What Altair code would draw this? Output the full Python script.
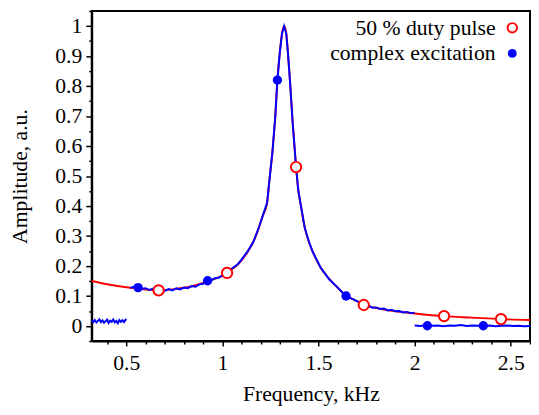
import altair as alt
import pandas as pd

# ---- data ----
red_x = [0.32, 0.40, 0.50, 0.60, 0.67, 0.75, 0.85, 0.92, 1.00, 1.024, 1.05, 1.08, 1.13, 1.16,
         1.19, 1.21, 1.232, 1.245, 1.26, 1.275, 1.286, 1.298, 1.31, 1.321, 1.332, 1.342, 1.351,
         1.365, 1.383, 1.395, 1.406, 1.428, 1.45, 1.471, 1.51, 1.556, 1.60, 1.64, 1.70, 1.735,
         1.80, 1.90, 2.00, 2.153, 2.30, 2.449, 2.60]
red_y = [0.150, 0.139, 0.129, 0.122, 0.119, 0.123, 0.134, 0.149, 0.168, 0.177, 0.190, 0.205,
         0.246, 0.280, 0.328, 0.368, 0.409, 0.490, 0.580, 0.700, 0.820, 0.910, 0.975, 1.000,
         0.975, 0.900, 0.820, 0.680, 0.530, 0.450, 0.409, 0.328, 0.280, 0.246, 0.195, 0.157,
         0.127, 0.103, 0.083, 0.070, 0.060, 0.049, 0.042, 0.033, 0.028, 0.023, 0.020]

blue1_x = [0.320, 0.328, 0.336, 0.344, 0.352, 0.360, 0.368, 0.376, 0.384, 0.392, 0.400, 0.408,
           0.416, 0.424, 0.432, 0.440, 0.448, 0.456, 0.464, 0.472, 0.480, 0.488, 0.496, 0.502]
blue1_y = [0.018, 0.013, 0.020, 0.012, 0.017, 0.022, 0.013, 0.019, 0.011, 0.016, 0.021, 0.010,
           0.018, 0.014, 0.022, 0.012, 0.017, 0.009, 0.020, 0.014, 0.019, 0.013, 0.021, 0.022]

blue2_x = [0.52, 0.54, 0.56, 0.58, 0.60, 0.62, 0.64, 0.66, 0.68, 0.70, 0.72, 0.74, 0.76, 0.78,
           0.80, 0.82, 0.84, 0.86, 0.88, 0.90, 0.92, 0.94, 0.96, 0.98, 1.00, 1.024, 1.05, 1.08,
           1.10, 1.13, 1.16, 1.19, 1.21, 1.232, 1.245, 1.26, 1.275, 1.286, 1.298, 1.31, 1.321,
           1.332, 1.342, 1.351, 1.365, 1.383, 1.395, 1.406, 1.428, 1.45, 1.471, 1.51, 1.556,
           1.60, 1.64, 1.67, 1.70, 1.735, 1.76, 1.78, 1.80, 1.82, 1.84, 1.86, 1.88, 1.90, 1.92,
           1.94, 1.96, 1.98, 2.00]
blue2_y = [0.127, 0.131, 0.128, 0.124, 0.126, 0.120, 0.125, 0.118, 0.122, 0.117, 0.123, 0.119,
           0.126, 0.122, 0.128, 0.126, 0.133, 0.131, 0.139, 0.141, 0.151, 0.152, 0.159, 0.161,
           0.169, 0.176, 0.192, 0.206, 0.222, 0.248, 0.279, 0.330, 0.368, 0.411, 0.490, 0.580,
           0.700, 0.820, 0.910, 0.975, 1.000, 0.975, 0.900, 0.820, 0.680, 0.530, 0.450, 0.409,
           0.328, 0.281, 0.245, 0.196, 0.155, 0.128, 0.101, 0.092, 0.083, 0.072, 0.068, 0.061,
           0.062, 0.057, 0.058, 0.052, 0.054, 0.049, 0.050, 0.045, 0.047, 0.043, 0.044]

blue3_x = [2.00, 2.03, 2.06, 2.09, 2.12, 2.15, 2.18, 2.21, 2.24, 2.27, 2.30, 2.33, 2.36, 2.39,
           2.42, 2.45, 2.48, 2.51, 2.54, 2.57, 2.60]
blue3_y = [0.002, 0.000, 0.003, 0.001, 0.002, -0.001, 0.002, 0.001, 0.003, 0.000, 0.002, 0.001,
           0.000, 0.002, -0.001, 0.001, 0.002, 0.000, 0.001, -0.001, 0.000]

red_mx = [0.668, 1.024, 1.383, 1.735, 2.153, 2.449]
red_my = [0.119, 0.177, 0.530, 0.070, 0.033, 0.023]
blue_mx = [0.561, 0.923, 1.286, 1.643, 2.066, 2.357]
blue_my = [0.128, 0.151, 0.820, 0.100, 0.001, 0.001]

series_names = ["50 % duty pulse", "complex excitation"]
x_major = [0.5, 1, 1.5, 2, 2.5]
x_minor = [0.4, 0.6, 0.7, 0.8, 0.9, 1.1, 1.2, 1.3, 1.4, 1.6, 1.7, 1.8, 1.9, 2.1, 2.2, 2.3, 2.4, 2.6]
y_major = [0, 0.1, 0.2, 0.3, 0.4, 0.5, 0.6, 0.7, 0.8, 0.9, 1]
y_minor = [-0.05, 0.05, 0.15, 0.25, 0.35, 0.45, 0.55, 0.65, 0.75, 0.85, 0.95, 1.05]

RED = "#ff0000"
BLUE = "#0000ff"
FONT = "Liberation Serif"
W, H = 445, 335

red_df = pd.DataFrame({"x": red_x, "y": red_y})
blue_df = pd.concat([
    pd.DataFrame({"x": blue1_x, "y": blue1_y, "seg": 1}),
    pd.DataFrame({"x": blue2_x, "y": blue2_y, "seg": 2}),
    pd.DataFrame({"x": blue3_x, "y": blue3_y, "seg": 3}),
])
red_m = pd.DataFrame({"x": red_mx, "y": red_my})
blue_m = pd.DataFrame({"x": blue_mx, "y": blue_my})

xs = alt.Scale(domain=[0.32, 2.6], nice=False, zero=False)
ys = alt.Scale(domain=[-0.05, 1.05], nice=False, zero=False)

x_axis = alt.Axis(values=x_major, format="~g", tickSize=5, tickWidth=1.5, labelFontSize=22,
                  labelPadding=7, title="Frequency, kHz", titleFontSize=22, titlePadding=10,
                  domainWidth=2, orient="bottom")
y_axis = alt.Axis(values=y_major, format="~g", tickSize=6, tickWidth=1.5, labelFontSize=22,
                  labelPadding=4, title="Amplitude, a.u.", titleFontSize=22, titlePadding=24,
                  domainWidth=2, orient="left")
x_axis_minor = alt.Axis(values=x_minor, tickSize=3, tickWidth=1.5, labels=False, domain=False,
                        orient="bottom")
y_axis_minor = alt.Axis(values=y_minor, tickSize=3, tickWidth=1.5, labels=False, domain=False,
                        orient="left")

red_line = alt.Chart(red_df).mark_line(color=RED, strokeWidth=2, interpolate="monotone").encode(
    x=alt.X("x:Q", scale=xs, axis=x_axis),
    y=alt.Y("y:Q", scale=ys, axis=y_axis),
)
minor = alt.Chart(red_df).mark_line(opacity=0).encode(
    x=alt.X("x:Q", scale=xs, axis=x_axis_minor, title=None),
    y=alt.Y("y:Q", scale=ys, axis=y_axis_minor, title=None),
)
blue_line = alt.Chart(blue_df).mark_line(color=BLUE, strokeWidth=2).encode(
    x=alt.X("x:Q", scale=xs, axis=None),
    y=alt.Y("y:Q", scale=ys, axis=None),
    detail="seg:N",
)
red_pts = alt.Chart(red_m).mark_point(shape="circle", filled=False, fill="white", fillOpacity=1,
                                      stroke=RED, strokeWidth=2, size=110, opacity=1).encode(
    x=alt.X("x:Q", scale=xs, axis=None),
    y=alt.Y("y:Q", scale=ys, axis=None),
)
blue_pts = alt.Chart(blue_m).mark_point(shape="circle", filled=True, color=BLUE, size=90,
                                        opacity=1).encode(
    x=alt.X("x:Q", scale=xs, axis=None),
    y=alt.Y("y:Q", scale=ys, axis=None),
)

leg_df = pd.DataFrame({"t": series_names})
LX_T, LX_P, LY1, LY2 = 410, 427, 17, 43
leg_t1 = alt.Chart(leg_df.iloc[[0]]).mark_text(align="right", baseline="middle", font=FONT,
                                               fontSize=22, color="black").encode(
    x=alt.value(LX_T), y=alt.value(LY1), text="t:N")
leg_t2 = alt.Chart(leg_df.iloc[[1]]).mark_text(align="right", baseline="middle", font=FONT,
                                               fontSize=22, color="black").encode(
    x=alt.value(LX_T), y=alt.value(LY2), text="t:N")
leg_p1 = alt.Chart(leg_df.iloc[[0]]).mark_point(shape="circle", filled=False, fill="white",
                                                fillOpacity=1, stroke=RED, strokeWidth=2,
                                                size=90, opacity=1).encode(
    x=alt.value(LX_P), y=alt.value(LY1))
leg_p2 = alt.Chart(leg_df.iloc[[1]]).mark_point(shape="circle", filled=True, color=BLUE,
                                                size=80, opacity=1).encode(
    x=alt.value(LX_P), y=alt.value(LY2))

chart = alt.layer(
    red_line, minor, blue_line, red_pts, blue_pts, leg_t1, leg_t2, leg_p1, leg_p2
).resolve_axis(x="independent", y="independent").properties(
    width=W, height=H,
    autosize=alt.AutoSizeParams(type="none"),
    padding={"left": 85, "top": 0, "right": 1, "bottom": 71},
).configure_view(stroke="black", strokeWidth=2).configure_axis(
    grid=False, domainColor="black", tickColor="black", labelColor="black", titleColor="black",
    labelFont=FONT, titleFont=FONT, titleFontWeight="normal",
)

chart.save("out.html", embed_options={"renderer": "svg", "actions": False})
